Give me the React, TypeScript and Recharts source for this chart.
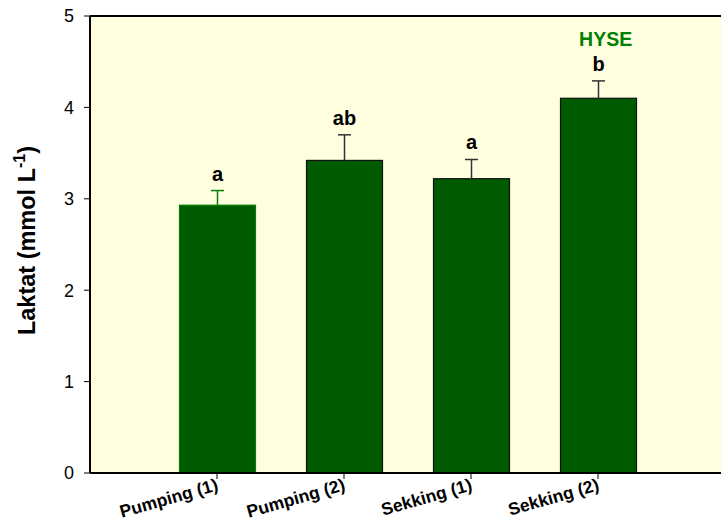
import React from "react"
import {
  ComposedChart,
  Bar,
  XAxis,
  YAxis,
  CartesianGrid,
  ReferenceLine,
  ReferenceDot,
  Label,
} from "recharts"

const categories = ["Pumping (1)", "Pumping (2)", "Sekking (1)", "Sekking (2)"]
const positions = [1, 2, 3, 4]
const laktat = [2.93, 3.42, 3.22, 4.1]
const errors = [0.16, 0.28, 0.21, 0.19]
const letters = ["a", "ab", "a", "b"]
const yTicks = [0, 1, 2, 3, 4, 5]

const data = categories.map((name, i) => ({
  name,
  pos: positions[i],
  value: laktat[i],
  err: errors[i],
  letter: letters[i],
}))

const FONT = "Arial, 'Liberation Sans', sans-serif"
const BAR_FILL = "#005a00"
const EDGE = ["#008000", "#111", "#111", "#111"]
const WHISKER = ["#008000", "#333", "#333", "#333"]

const BarWithError = (props: any) => {
  const { x, y, width, height, payload, index } = props
  const cx = x + width / 2
  const perUnit = payload.value ? height / payload.value : 0
  const capY = y - payload.err * perUnit
  return (
    <g>
      <rect x={x} y={y} width={width} height={height} fill={BAR_FILL} stroke={EDGE[index]} strokeWidth={1.2} />
      <line x1={cx} y1={y} x2={cx} y2={capY} stroke={WHISKER[index]} strokeWidth={1.5} />
      <line x1={cx - 6.5} y1={capY} x2={cx + 6.5} y2={capY} stroke={WHISKER[index]} strokeWidth={1.5} />
      <text x={cx} y={capY - 10} textAnchor="middle" fontFamily={FONT} fontWeight="bold" fontSize={20} fill="#000">
        {payload.letter}
      </text>
    </g>
  )
}

const XTick = (props: any) => {
  const { x, y, payload } = props
  const idx = positions.indexOf(payload.value)
  return (
    <g transform={`translate(${x + 2},${y + 9})`}>
      <text x={0} y={0} textAnchor="end" transform="rotate(-16)" fontFamily={FONT} fontWeight="bold" fontSize={17.5} fill="#000">
        {categories[idx]}
      </text>
    </g>
  )
}

const YLabel = (props: any) => {
  const { viewBox } = props
  const cx = viewBox.x + 35
  const cy = viewBox.y + viewBox.height / 2 - 4
  return (
    <text
      x={cx}
      y={cy}
      transform={`rotate(-90, ${cx}, ${cy})`}
      textAnchor="middle"
      fontFamily={FONT}
      fontWeight="bold"
      fontSize={23.5}
      fill="#000"
    >
      <tspan>Laktat (mmol L</tspan>
      <tspan dy={-10} fontSize={16}>-1</tspan>
      <tspan dy={10}>)</tspan>
    </text>
  )
}

export default function App() {
  return (
    <div style={{ position: "absolute", left: 0, top: 0, width: 721, height: 532, overflow: "hidden", background: "#fff" }}>
      <ComposedChart width={740} height={532} data={data} margin={{ top: 16, right: 15, left: 0, bottom: 0 }}>
        <CartesianGrid fill="#ffffe0" horizontal={false} vertical={false} />
        <XAxis
          dataKey="pos"
          type="number"
          domain={[0, 5]}
          ticks={positions}
          height={59}
          stroke="#000"
          strokeWidth={2}
          tickSize={6}
          tick={<XTick />}
          tickLine={{ stroke: "#000", strokeWidth: 1 }}
        />
        <YAxis
          domain={[0, 5]}
          ticks={yTicks}
          width={90}
          stroke="#000"
          strokeWidth={2}
          tickSize={6}
          tickMargin={10}
          tick={{ fill: "#000", fontSize: 18, fontFamily: FONT }}
          tickLine={{ stroke: "#000", strokeWidth: 1 }}
        >
          <Label content={<YLabel />} />
        </YAxis>
        <ReferenceLine y={5} stroke="#000" strokeWidth={2} />
        <Bar dataKey="value" barSize={76} isAnimationActive={false} shape={<BarWithError />} />
        <ReferenceDot x={4.06} y={4.75} r={0} fill="none" stroke="none">
          <Label value="HYSE" position="center" fill="#008000" fontWeight="bold" fontSize={19.5} fontFamily={FONT} />
        </ReferenceDot>
      </ComposedChart>
    </div>
  )
}
